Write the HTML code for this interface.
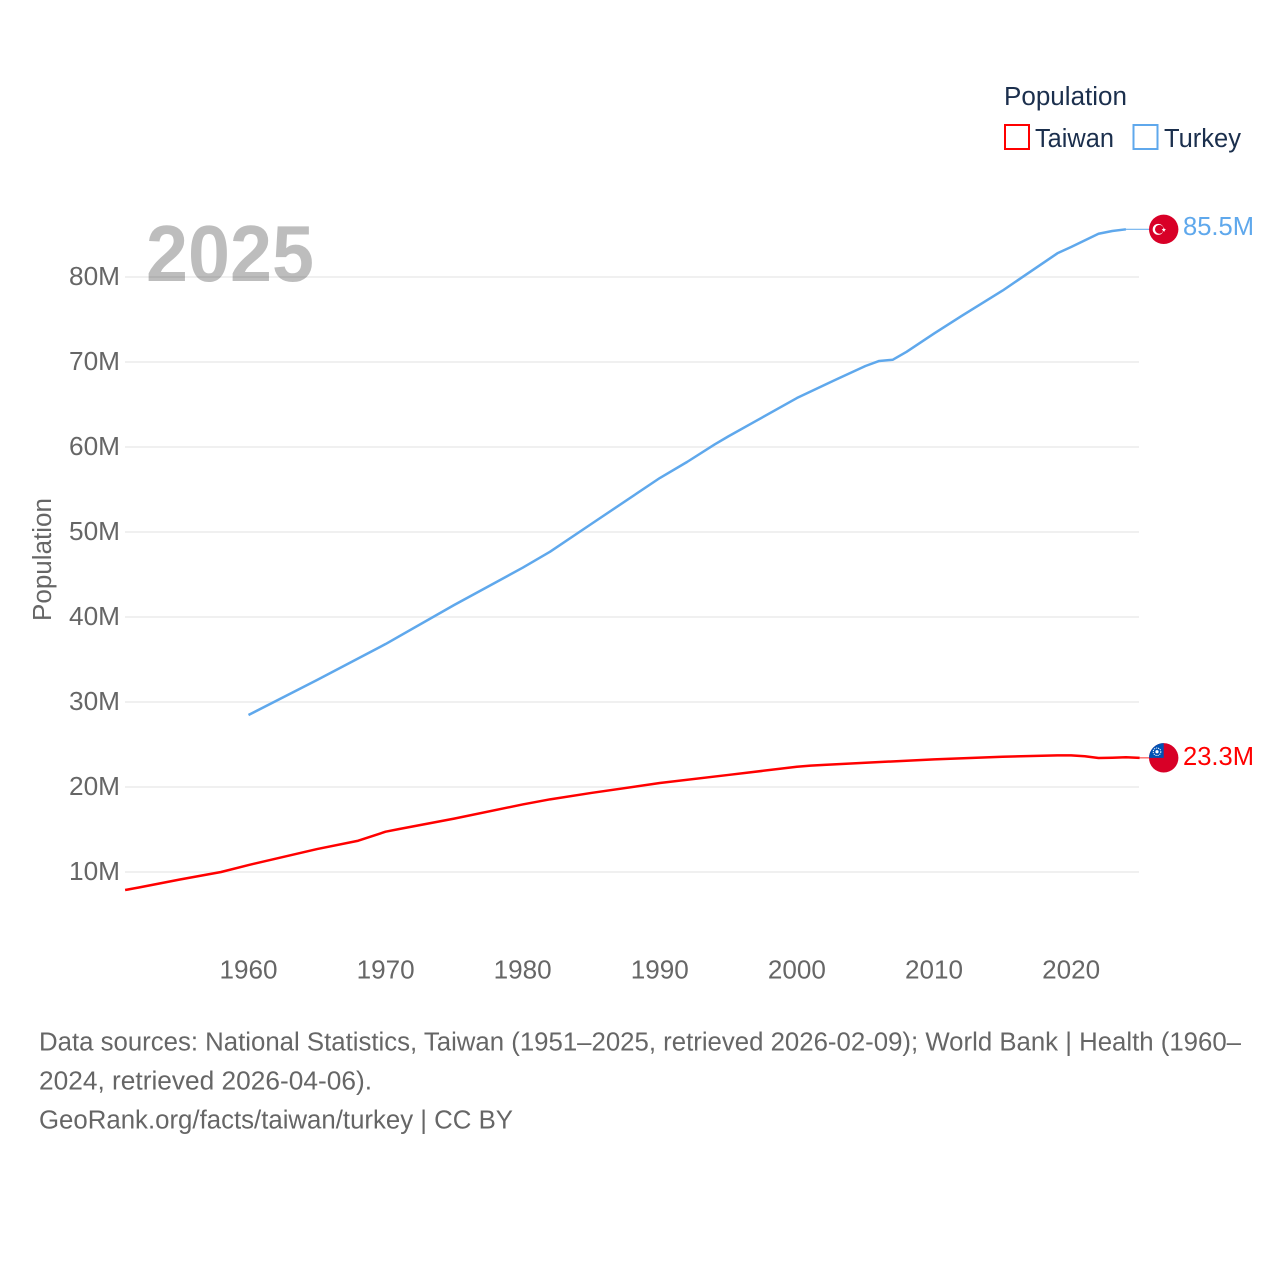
<!DOCTYPE html>
<html lang="en">
<head>
<meta charset="utf-8">
<title>Population: Taiwan and Turkey</title>
<style>
  html, body { margin: 0; padding: 0; background: #fff; }
  svg { display: block; font-family: "Liberation Sans", sans-serif; }
</style>
</head>
<body>
<svg id="chart" xmlns="http://www.w3.org/2000/svg" width="1280" height="1280" viewBox="0 0 1280 1280">
  <rect x="0" y="0" width="1280" height="1280" fill="#fff"/>
  <g id="grid"></g>
  <g id="yticks"></g>
  <g id="xticks"></g>
  <text x="146" y="281" font-size="80" font-weight="700" fill="#000" fill-opacity="0.26" textLength="168" lengthAdjust="spacingAndGlyphs">2025</text>
  <text transform="translate(51,621) rotate(-90)" font-size="25.5" fill="#666" textLength="123" lengthAdjust="spacingAndGlyphs">Population</text>
  <g id="series"></g>

  <g>
    <text x="1004" y="105" font-size="25.5" fill="#1b2f4d" textLength="123" lengthAdjust="spacingAndGlyphs">Population</text>
    <g>
      <rect x="1005" y="125" width="24" height="24" fill="#fff" stroke="#ff0000" stroke-width="2"/>
      <text x="1035" y="147" font-size="25.5" fill="#1b2f4d" textLength="79" lengthAdjust="spacingAndGlyphs">Taiwan</text>
    </g>
    <g>
      <rect x="1133.5" y="125" width="24" height="24" fill="#fff" stroke="#5fa8ec" stroke-width="2"/>
      <text x="1164" y="147" font-size="25.5" fill="#1b2f4d" textLength="77" lengthAdjust="spacingAndGlyphs">Turkey</text>
    </g>
  </g>

  <g font-size="25.5" fill="#666">
    <text x="39" y="1050.5" textLength="1202" lengthAdjust="spacingAndGlyphs">Data sources: National Statistics, Taiwan (1951–2025, retrieved 2026-02-09); World Bank | Health (1960–</text>
    <text x="39" y="1089.5" textLength="333" lengthAdjust="spacingAndGlyphs">2024, retrieved 2026-04-06).</text>
    <text x="39" y="1128.5" textLength="474" lengthAdjust="spacingAndGlyphs">GeoRank.org/facts/taiwan/turkey | CC BY</text>
  </g>
</svg>

<script>
// ---- chart data (population in millions) ----
const taiwanYears = [1951, 1952, 1955, 1958, 1960, 1965, 1968, 1970, 1971, 1975, 1980, 1982, 1985, 1990, 1995, 2000, 2001, 2002, 2005, 2010, 2015, 2019, 2020, 2021, 2022, 2023, 2024, 2025];
const taiwanValues = [7.88, 8.18, 9.12, 10.0, 10.82, 12.7, 13.68, 14.74, 15.06, 16.28, 17.95, 18.55, 19.3, 20.47, 21.42, 22.38, 22.52, 22.6, 22.85, 23.25, 23.56, 23.72, 23.72, 23.62, 23.41, 23.44, 23.5, 23.43];
const turkeyYears = [1960, 1965, 1970, 1975, 1980, 1982, 1985, 1990, 1992, 1994, 1995, 1997, 2000, 2003, 2005, 2006, 2007, 2008, 2010, 2012, 2015, 2019, 2020, 2022, 2023, 2024];
const turkeyValues = [28.47, 32.59, 36.82, 41.41, 45.8, 47.68, 50.94, 56.35, 58.25, 60.3, 61.25, 63.05, 65.76, 68.05, 69.53, 70.12, 70.27, 71.2, 73.35, 75.4, 78.4, 82.79, 83.53, 85.09, 85.41, 85.61];
const yTickValues = [10, 20, 30, 40, 50, 60, 70, 80];
const yTickLabels = ['10M', '20M', '30M', '40M', '50M', '60M', '70M', '80M'];
const xTickValues = [1960, 1970, 1980, 1990, 2000, 2010, 2020];
const xTickLabels = ['1960', '1970', '1980', '1990', '2000', '2010', '2020'];
const taiwanEndLabel = '23.3M';
const turkeyEndLabel = '85.5M';

// ---- axis functions ----
function xScale(year) { return 248.5 + (year - 1960) * 13.71; }
function yScale(value) { return 872 - (value - 10) * 8.5; }

const NS = 'http://www.w3.org/2000/svg';
function make(parent, tag, attrs, text) {
  const el = document.createElementNS(NS, tag);
  for (const k in attrs) el.setAttribute(k, attrs[k]);
  if (text !== undefined) el.textContent = text;
  parent.appendChild(el);
  return el;
}

const grid = document.getElementById('grid');
const yticks = document.getElementById('yticks');
const xticks = document.getElementById('xticks');
const series = document.getElementById('series');

yTickValues.forEach(function (v, i) {
  const line = make(grid, 'line', { x1: 125, x2: 1139, y1: yScale(v), y2: yScale(v), stroke: '#eeeeee', 'stroke-width': 1.7 });
  
  
  const label = make(yticks, 'text', { x: 69, y: yScale(v) + 8, 'font-size': 25.5, fill: '#666', textLength: 51, lengthAdjust: 'spacingAndGlyphs' }, yTickLabels[i]);
  
  
});

xTickValues.forEach(function (yr, i) {
  const label = make(xticks, 'text', { x: xScale(yr) - 29, y: 978.5, 'font-size': 25.5, fill: '#666', textLength: 58, lengthAdjust: 'spacingAndGlyphs' }, xTickLabels[i]);
  
  
});

function pointsOf(years, values) {
  return years.map(function (yr, i) { return xScale(yr).toFixed(2) + ',' + yScale(values[i]).toFixed(2); }).join(' ');
}

// Turkey series
const turkeyLine = make(series, 'polyline', { points: pointsOf(turkeyYears, turkeyValues), fill: 'none', stroke: '#5fa8ec', 'stroke-width': 2.5, 'stroke-linejoin': 'round' });



// Taiwan series
const taiwanLine = make(series, 'polyline', { points: pointsOf(taiwanYears, taiwanValues), fill: 'none', stroke: '#ff0000', 'stroke-width': 2.5, 'stroke-linejoin': 'round' });



// End markers
const flagX = 1163.7;
const flagR = 14.7;
const turkeyLastX = xScale(turkeyYears[turkeyYears.length - 1]);
const turkeyLastY = yScale(turkeyValues[turkeyValues.length - 1]);
const taiwanLastX = xScale(taiwanYears[taiwanYears.length - 1]);
const taiwanLastY = yScale(taiwanValues[taiwanValues.length - 1]);

const turkeyConnector = make(series, 'line', { x1: turkeyLastX, x2: flagX - flagR, y1: turkeyLastY, y2: turkeyLastY, stroke: '#5fa8ec', 'stroke-width': 1.2, opacity: 0.9 });



const taiwanConnector = make(series, 'line', { x1: taiwanLastX, x2: flagX - flagR, y1: taiwanLastY, y2: taiwanLastY, stroke: '#ff0000', 'stroke-width': 1.2, opacity: 0.7 });



// Turkey flag
const tf = make(series, 'g', { transform: 'translate(' + flagX + ',' + turkeyLastY + ')' });


make(tf, 'circle', { cx: 0, cy: 0, r: flagR, fill: '#d80027' });
make(tf, 'circle', { cx: -5.5, cy: 0, r: 5.5, fill: '#fff' });
make(tf, 'circle', { cx: -4.3, cy: 0, r: 4.4, fill: '#d80027' });
make(tf, 'polygon', { points: '-2.1,0 -0.5,-0.5 0.1,-2 0.7,-0.5 2.3,0 1,0.9 1.3,2.4 0.1,1.5 -1.1,2.4 -0.8,0.9', fill: '#fff' });

// Taiwan flag
const wf = make(series, 'g', { transform: 'translate(' + flagX + ',' + taiwanLastY + ')' });


make(wf, 'circle', { cx: 0, cy: 0, r: flagR, fill: '#d80027' });
make(wf, 'path', { d: 'M0,0 L0,-14.7 A14.7,14.7 0 0 0 -14.7,0 Z', fill: '#0052b4' });
make(wf, 'circle', { cx: -6.7, cy: -6.1, r: 3.8, fill: 'none', stroke: '#fff', 'stroke-width': 1, 'stroke-dasharray': '1.2 0.9' });
make(wf, 'circle', { cx: -6.7, cy: -6.1, r: 1.6, fill: '#fff' });

// End labels
const turkeyValueLabel = make(series, 'text', { x: 1183, y: turkeyLastY + 5.8, 'font-size': 26, fill: '#5fa8ec', textLength: 71, lengthAdjust: 'spacingAndGlyphs' }, turkeyEndLabel);



const taiwanValueLabel = make(series, 'text', { x: 1183, y: taiwanLastY + 7.2, 'font-size': 26, fill: '#ff0000', textLength: 71, lengthAdjust: 'spacingAndGlyphs' }, taiwanEndLabel);


</script>
</body>
</html>
